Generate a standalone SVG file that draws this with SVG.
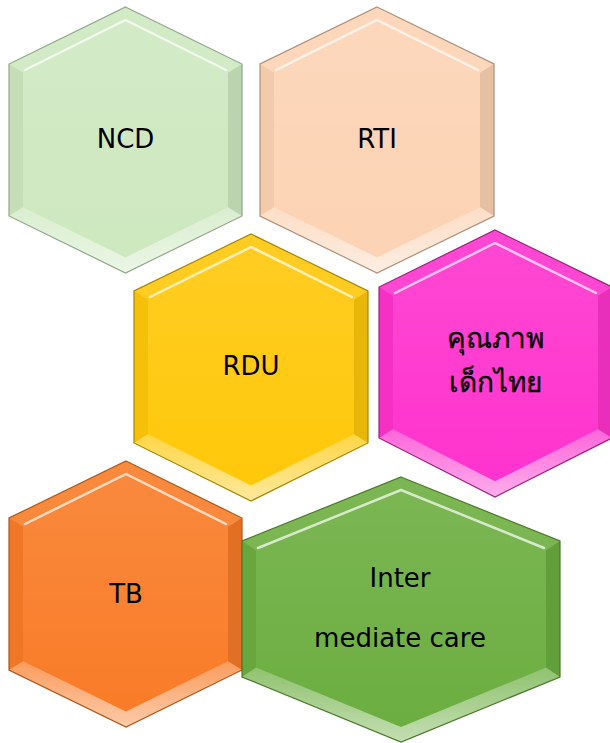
<svg xmlns="http://www.w3.org/2000/svg" width="610" height="743" viewBox="0 0 610 743">
<defs>
<linearGradient id="faceShade" x1="0" y1="0" x2="0" y2="1">
<stop offset="0" stop-color="#fff" stop-opacity="0.1"/>
<stop offset="1" stop-color="#fff" stop-opacity="0"/>
</linearGradient>
<linearGradient id="botShade" x1="0" y1="0" x2="0" y2="1">
<stop offset="0" stop-color="#fff" stop-opacity="0.25"/>
<stop offset="1" stop-color="#fff" stop-opacity="0.6"/>
</linearGradient>
</defs>
<style>
.fu{fill:#fff;fill-opacity:0.1}
.fl{fill:#000;fill-opacity:0.04}
.fr{fill:#000;fill-opacity:0.09}
.fb{fill:url(#botShade)}
.face{fill:url(#faceShade)}
.hl{fill:none;stroke:#fff;stroke-width:2.5;stroke-opacity:0.7;stroke-linejoin:round;stroke-linecap:round}
.ol{fill:none;stroke-width:1.2}
text{font-family:"DejaVu Sans","Noto Sans",sans-serif;font-size:26px;fill:#000;text-anchor:middle}
.th{font-size:28px;stroke:#000;stroke-width:0.3}
</style>
<rect width="610" height="743" fill="#fff"/>
<g id="connectors"/>

<g id="ncd">
<polygon points="125.5,7 242,64 242,216 125.5,273 9,216 9,64" fill="#CEE8C0"/>
<polygon class="fu" points="9,64 125.5,7 242,64 228,72.8 125.5,22.6 23,72.8"/>
<polygon class="fl" points="9,64 23,72.8 23,207.3 9,216"/>
<polygon class="fr" points="242,64 228,72.8 228,207.3 242,216"/>
<polygon class="fb" points="9,216 23,207.3 125.5,257.4 228,207.3 242,216 125.5,273"/>
<polygon class="face" points="125.5,22.6 228,72.8 228,207.3 125.5,257.4 23,207.3 23,72.8"/>
<polyline class="hl" points="25,70 125.5,20 226,70"/>
<polygon class="ol" stroke="#8FA888" points="125.5,7 242,64 242,216 125.5,273 9,216 9,64"/>
<text x="125.5" y="148">NCD</text>
</g>

<g id="rti">
<polygon points="377,7 494,64 494,216 377,273 260,216 260,64" fill="#FCD3B4"/>
<polygon class="fu" points="260,64 377,7 494,64 480,72.8 377,22.6 274,72.8"/>
<polygon class="fl" points="260,64 274,72.8 274,207.2 260,216"/>
<polygon class="fr" points="494,64 480,72.8 480,207.2 494,216"/>
<polygon class="fb" points="260,216 274,207.2 377,257.4 480,207.2 494,216 377,273"/>
<polygon class="face" points="377,22.6 480,72.8 480,207.2 377,257.4 274,207.2 274,72.8"/>
<polyline class="hl" points="276,70 377,20 478,70"/>
<polygon class="ol" stroke="#B09078" points="377,7 494,64 494,216 377,273 260,216 260,64"/>
<text x="377" y="148">RTI</text>
</g>

<g id="rdu">
<polygon points="251,234 368,291 368,443 251,501 134,443 134,291" fill="#FFC80A"/>
<polygon class="fu" points="134,291 251,234 368,291 354,299.8 251,249.6 148,299.8"/>
<polygon class="fl" points="134,291 148,299.8 148,434.3 134,443"/>
<polygon class="fr" points="368,291 354,299.8 354,434.3 368,443"/>
<polygon class="fb" points="134,443 148,434.3 251,485.4 354,434.3 368,443 251,501"/>
<polygon class="face" points="251,249.6 354,299.8 354,434.3 251,485.4 148,434.3 148,299.8"/>
<polyline class="hl" points="150,297 251,247 352,297"/>
<polygon class="ol" stroke="#A88600" points="251,234 368,291 368,443 251,501 134,443 134,291"/>
<text x="251" y="375">RDU</text>
</g>

<g id="kid">
<polygon points="495,230 612,287 612,438 495,497 379,438 379,287" fill="#FF33CE"/>
<polygon class="fu" points="379,287 495,230 612,287 598,295.7 495,245.6 393,295.7"/>
<polygon class="fl" points="379,287 393,295.7 393,429.3 379,438"/>
<polygon class="fr" points="612,287 598,295.7 598,429.3 612,438"/>
<polygon class="fb" points="379,438 393,429.3 495,481.2 598,429.3 612,438 495,497"/>
<polygon class="face" points="495,245.6 598,295.7 598,429.3 495,481.2 393,429.3 393,295.7"/>
<polyline class="hl" points="395,293 495,243 596,293"/>
<polygon class="ol" stroke="#A02080" points="495,230 612,287 612,438 495,497 379,438 379,287"/>
<text class="th" x="495" y="348">คุณภาพ</text>
<text class="th" x="495" y="392">เด็กไทย</text>
</g>

<g id="tb">
<polygon points="126,461 242,518 242,670 126,727 9,670 9,518" fill="#F97C28"/>
<polygon class="fu" points="9,518 126,461 242,518 228,526.7 126,476.6 23,526.7"/>
<polygon class="fl" points="9,518 23,526.7 23,661.3 9,670"/>
<polygon class="fr" points="242,518 228,526.7 228,661.3 242,670"/>
<polygon class="fb" points="9,670 23,661.3 126,711.4 228,661.3 242,670 126,727"/>
<polygon class="face" points="126,476.6 228,526.7 228,661.3 126,711.4 23,661.3 23,526.7"/>
<polyline class="hl" points="25,524 126,474 226,524"/>
<polygon class="ol" stroke="#B05818" points="126,461 242,518 242,670 126,727 9,670 9,518"/>
<text x="126" y="603">TB</text>
</g>

<g id="imc">
<polygon points="401,477 560,541 560,677 401,742 242,677 242,541" fill="#6CAE40"/>
<polygon class="fu" points="242,541 401,477 560,541 546,550.5 401,492.1 256,550.5"/>
<polygon class="fl" points="242,541 256,550.5 256,667.6 242,677"/>
<polygon class="fr" points="560,541 546,550.5 546,667.6 560,677"/>
<polygon class="fb" points="242,677 256,667.6 401,726.9 546,667.6 560,677 401,742"/>
<polygon class="face" points="401,492.1 546,550.5 546,667.6 401,726.9 256,667.6 256,550.5"/>
<polyline class="hl" points="258,548 401,490 544,548"/>
<polygon class="ol" stroke="#4A7A2A" points="401,477 560,541 560,677 401,742 242,677 242,541"/>
<text x="400" y="587">Inter</text>
<text x="400" y="647">mediate care</text>
</g>
</svg>
